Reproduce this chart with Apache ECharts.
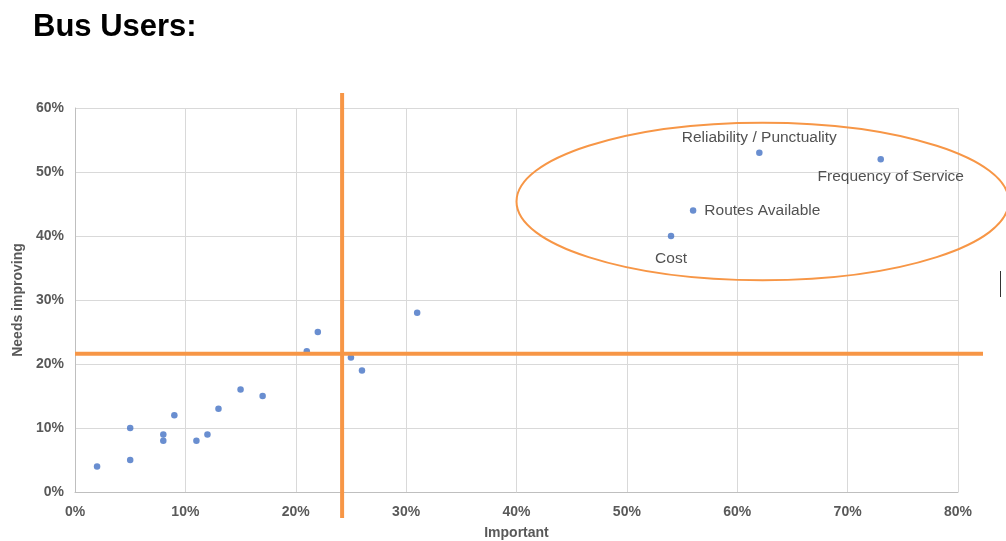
<!DOCTYPE html>
<html>
<head>
<meta charset="utf-8">
<script src="https://cdn.jsdelivr.net/npm/echarts@6/dist/echarts.min.js"></script>
<style>
  html, body { margin: 0; padding: 0; background: #fff; }
  #chart { width: 1006px; height: 541px; }
</style>
</head>
<body>
<div id="chart"></div>
<script>
// Share of bus users rating each factor as important (x) vs needing improvement (y), in %
const importantPct = [2, 5, 5, 8, 8, 9, 11, 12, 13, 15, 17, 21, 22, 25, 26, 31, 54, 56, 62, 73];
const needsImprovingPct = [4, 10, 5, 9, 8, 12, 8, 9, 13, 16, 15, 22, 25, 21, 19, 28, 40, 44, 53, 52];
const pointNames = ['', '', '', '', '', '', '', '', '', '', '', '', '', '', '', '',
  'Cost', 'Routes Available', 'Reliability / Punctuality', 'Frequency of Service'];
const labelSide = ['', '', '', '', '', '', '', '', '', '', '', '', '', '', '', '',
  'bottom', 'right', 'top', 'bottom'];
const xTicks = [0, 10, 20, 30, 40, 50, 60, 70, 80];
const yTicks = [0, 10, 20, 30, 40, 50, 60];
// Quadrant dividers (%)
const dividerX = 24.2;
const dividerY = 21.6;

const chart = echarts.init(document.getElementById('chart'));
const font = '"Liberation Sans", Arial, sans-serif';

const labelDistance = { top: 4, right: 8, bottom: 6 };

const points = importantPct.map((x, i) => {
  const p = { value: [x, needsImprovingPct[i]], name: pointNames[i] };
  if (pointNames[i]) {
    const side = labelSide[i];
    p.label = {
      show: true, position: side, formatter: '{b}',
      color: '#262626', fontSize: 15.5, fontFamily: font,
      distance: pointNames[i] === 'Cost' ? 11 : labelDistance[side],
      offset: pointNames[i] === 'Frequency of Service' ? [10, 0] : [0, 0]
    };
  }
  return p;
});

const tickLabel = { formatter: '{value}%', color: '#595959', fontSize: 14, fontWeight: 'bold', fontFamily: font };
const nameStyle = { color: '#595959', fontSize: 14, fontWeight: 'bold', fontFamily: font };

chart.setOption({
  animation: false,
  title: {
    text: 'Bus Users:', left: 28, top: 7,
    textStyle: { fontFamily: font, fontWeight: 'bold', fontSize: 31, color: '#000' }
  },
  grid: { left: 75, right: 48, top: 108, bottom: 49, outerBoundsMode: 'none', containLabel: false },
  xAxis: {
    type: 'value', min: xTicks[0], max: xTicks[xTicks.length - 1], interval: 10,
    name: 'Important', nameLocation: 'middle', nameGap: 34,
    nameTextStyle: nameStyle,
    axisLine: { show: true, lineStyle: { color: '#bfbfbf' } },
    axisTick: { show: false },
    axisLabel: Object.assign({ margin: 13 }, tickLabel),
    splitLine: { show: true, lineStyle: { color: '#d9d9d9' } }
  },
  yAxis: {
    type: 'value', min: yTicks[0], max: yTicks[yTicks.length - 1], interval: 10,
    name: 'Needs improving', nameLocation: 'middle', nameGap: 50, nameRotate: 90,
    nameTextStyle: nameStyle,
    axisLine: { show: true, lineStyle: { color: '#bfbfbf' } },
    axisTick: { show: false },
    axisLabel: Object.assign({ margin: 11 }, tickLabel),
    splitLine: { show: true, lineStyle: { color: '#d9d9d9' } }
  },
  series: [{
    type: 'scatter', symbolSize: 6.5,
    itemStyle: { color: '#4472C4' },
    data: points
  }]
});

// Quadrant dividers and the highlight ellipse, placed through the axis scales
function drawOverlay() {
  const topLeft = chart.convertToPixel({ gridIndex: 0 }, [0, 60]);
  const botRight = chart.convertToPixel({ gridIndex: 0 }, [80, 0]);
  const vx = chart.convertToPixel({ xAxisIndex: 0 }, dividerX);
  const hy = chart.convertToPixel({ yAxisIndex: 0 }, dividerY);
  const c = chart.convertToPixel({ gridIndex: 0 }, [62.3, 45.4]);
  const rx = chart.convertToPixel({ xAxisIndex: 0 }, 62.3 + 22.3) - c[0];
  const ry = c[1] - chart.convertToPixel({ yAxisIndex: 0 }, 45.4 + 12.3);
  const orange = '#F79646';
  chart.setOption({
    graphic: [
      { type: 'line', z: 10, shape: { x1: vx, y1: topLeft[1] - 15, x2: vx, y2: botRight[1] + 26 },
        style: { stroke: orange, lineWidth: 4 } },
      { type: 'line', z: 10, shape: { x1: topLeft[0], y1: hy, x2: botRight[0] + 25, y2: hy },
        style: { stroke: orange, lineWidth: 4 } },
      { type: 'ellipse', z: 10, shape: { cx: c[0], cy: c[1], rx: rx, ry: ry },
        style: { fill: 'none', stroke: orange, lineWidth: 2 } },
      { type: 'line', z: 10, shape: { x1: 1000.5, y1: 271, x2: 1000.5, y2: 297 },
        style: { stroke: '#333', lineWidth: 1 } }
    ]
  });
}
drawOverlay();
</script>
</body>
</html>
